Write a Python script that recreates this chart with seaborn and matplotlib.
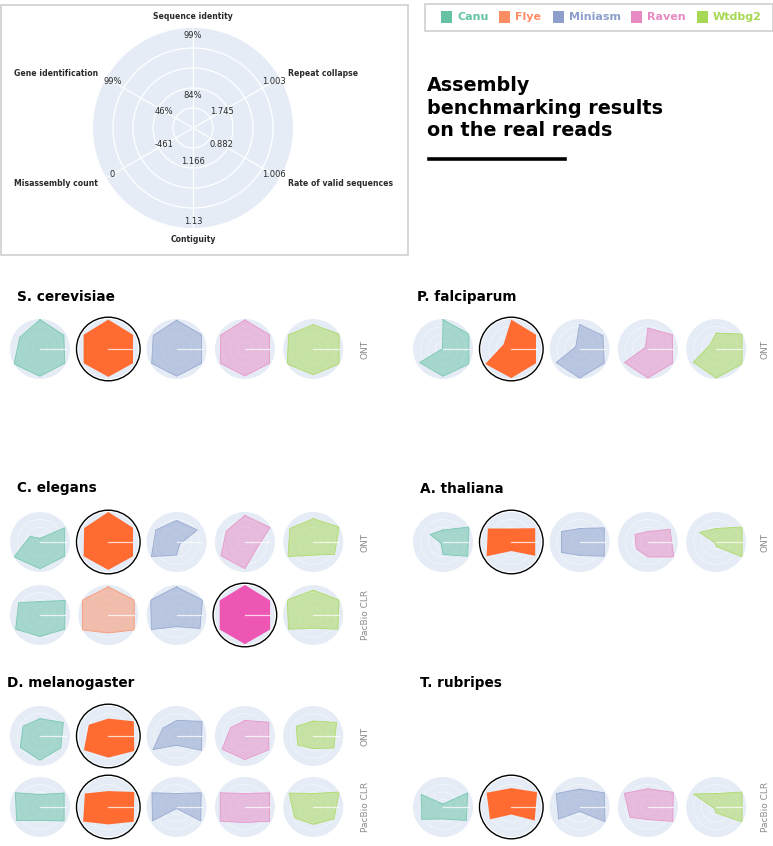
import colorsys
import numpy as np
import matplotlib
matplotlib.use("Agg")
import matplotlib.pyplot as plt
import seaborn as sns

# assemblers and metric names
assemblers = ["Canu", "Flye", "Miniasm", "Raven", "Wtdbg2"]
metrics = ["Sequence identity", "Repeat collapse", "Rate of valid sequences",
           "Contiguity", "Misassembly count", "Gene identification"]
inner_ticks = ["84%", "1.745", "0.882", "1.166", "-461", "46%"]
outer_ticks = ["99%", "1.003", "1.006", "1.13", "0", "99%"]

# normalised scores, metric order as above, one row per assembler
s_cerevisiae_ont = [[0.98, 0.92, 0.95, 0.91, 1.00, 0.78],
                    [0.98, 0.95, 0.95, 0.93, 0.95, 0.95],
                    [0.96, 0.96, 0.96, 0.91, 0.96, 0.90],
                    [0.97, 0.95, 0.95, 0.90, 0.95, 0.93],
                    [0.81, 1.00, 1.00, 0.86, 1.00, 0.95]]
p_falciparum_ont = [[0.98, 1.00, 1.00, 0.91, 0.90, 0.02],
                    [0.98, 0.95, 0.95, 0.97, 1.00, 0.30],
                    [0.82, 0.90, 0.95, 0.97, 0.90, 0.15],
                    [0.70, 0.95, 0.95, 0.97, 0.90, 0.10],
                    [0.53, 1.00, 1.00, 0.97, 0.88, 0.25]]
c_elegans_ont = [[0.12, 0.95, 0.95, 0.89, 1.00, 0.38],
                 [1.00, 0.95, 0.95, 0.93, 0.95, 0.93],
                 [0.72, 0.80, 0.13, 0.44, 0.97, 0.80],
                 [0.89, 0.97, 0.45, 0.89, 0.92, 0.72],
                 [0.78, 1.00, 0.82, 0.44, 0.97, 0.90]]
c_elegans_clr = [[0.45, 0.97, 0.95, 0.72, 0.94, 0.82],
                 [0.94, 1.00, 1.00, 0.60, 1.00, 1.00],
                 [0.94, 1.00, 0.90, 0.39, 0.97, 1.00],
                 [1.00, 0.97, 0.97, 0.97, 0.97, 0.97],
                 [0.83, 1.00, 0.95, 0.44, 0.95, 1.00]]
a_thaliana_ont = [[0.40, 1.00, 0.95, 0.42, 0.08, 0.50],
                  [0.45, 0.92, 0.92, 0.30, 0.95, 0.90],
                  [0.45, 0.95, 0.95, 0.45, 0.70, 0.70],
                  [0.35, 0.85, 1.00, 0.50, 0.45, 0.50],
                  [0.45, 1.00, 1.00, 0.15, 0.05, 0.64]]
d_melanogaster_ont = [[0.58, 0.90, 0.80, 0.81, 0.76, 0.65],
                      [0.58, 0.98, 1.00, 0.72, 0.94, 0.75],
                      [0.52, 0.98, 0.96, 0.31, 0.91, 0.53],
                      [0.52, 0.92, 0.92, 0.79, 0.88, 0.55],
                      [0.50, 0.90, 0.80, 0.42, 0.60, 0.65]]
d_melanogaster_clr = [[0.42, 0.93, 0.93, 0.45, 0.90, 0.95],
                      [0.53, 1.00, 0.98, 0.58, 0.97, 0.90],
                      [0.45, 0.95, 0.93, 0.05, 0.93, 0.95],
                      [0.45, 0.95, 0.95, 0.52, 0.95, 0.95],
                      [0.45, 1.00, 0.80, 0.58, 0.72, 0.93]]
t_rubripes_clr = [[0.10, 0.95, 0.90, 0.40, 0.82, 0.84],
                  [0.63, 0.99, 0.90, 0.25, 0.82, 0.95],
                  [0.60, 0.95, 0.98, 0.15, 0.81, 0.90],
                  [0.61, 0.98, 0.96, 0.42, 0.69, 0.91],
                  [0.45, 1.00, 1.00, 0.20, 0.08, 0.87]]

W, H = 773, 846
fig = plt.figure(figsize=(W / 100, H / 100), dpi=100)
plt.rcParams['font.family'] = ['DejaVu Sans']

pal = sns.color_palette("Set2", 5)
BG = "#e5ecf6"
TXT = "#2a2a2a"
angles = np.deg2rad(np.arange(0, 360, 60))


def fx(x):
    return x / W


def fy(y):
    return 1 - y / H


def polar_at(cx, cy, r):
    ax = fig.add_axes([fx(cx - r), fy(cy + r), 2 * r / W, 2 * r / H], projection="polar")
    ax.set_theta_offset(np.pi / 2)
    ax.set_theta_direction(-1)
    ax.set_facecolor(BG)
    ax.spines["polar"].set_visible(False)
    ax.set_ylim(0, 1)
    ax.set_yticklabels([])
    ax.set_xticklabels([])
    ax.tick_params(length=0, pad=0)
    ax.set_axisbelow(True)
    return ax


def win_color(c):
    h, l, s = colorsys.rgb_to_hls(*c)
    return colorsys.hls_to_rgb(h, l - 0.09, min(1, s + 0.15))


def radar(cx, cy, vals, color, win):
    ax = polar_at(cx, cy, 30)
    ax.set_yticks([0.25, 0.5, 0.75])
    ax.set_xticks([])
    ax.grid(True, color="white", lw=0.5, alpha=0.6)
    th = np.append(angles, angles[0])
    rr = np.append(vals, vals[0])
    if win:
        ax.fill(th, rr, color=win_color(color), alpha=1, lw=0, zorder=2)
        ring = plt.Circle((0.5, 0.5), 0.53, transform=ax.transAxes, fill=False,
                          edgecolor="black", lw=1.0, clip_on=False, zorder=5)
        ax.add_artist(ring)
    else:
        ax.fill(th, rr, facecolor=color, alpha=0.5, edgecolor="none", zorder=2)
        ax.plot(th, rr, color=color, lw=0.6, alpha=0.8, zorder=3)
    ax.plot([np.pi / 2, np.pi / 2], [0, 0.85], color="white", lw=0.9, alpha=0.75, zorder=4)


# --- example radar with metric names
box = plt.Rectangle((fx(1), fy(255)), 407 / W, 250 / H, transform=fig.transFigure,
                    fill=False, edgecolor="#cfcfcf", lw=1.2)
fig.patches.append(box)
big = polar_at(193, 128, 100)
big.set_xticks(angles)
big.set_yticks([0.2, 0.4, 0.6, 0.8])
big.grid(True, color="white", lw=0.9)
for i, name in enumerate(metrics):
    a = angles[i]
    big.text(a, 0.33, inner_ticks[i], ha="center", va="center", fontsize=6, color=TXT)
    big.text(a, 0.93, outer_ticks[i], ha="center", va="center", fontsize=6, color=TXT)
lab_pos = [(1.07, "center", "bottom"), (1.1, "left", "center"), (1.1, "left", "center"),
           (1.07, "center", "top"), (1.1, "right", "center"), (1.1, "right", "center")]
for i, name in enumerate(metrics):
    r, ha, va = lab_pos[i]
    big.text(angles[i], r, name, ha=ha, va=va, fontsize=5.6, fontweight="bold",
             color=TXT, clip_on=False)

# --- legend
leg = plt.Rectangle((fx(425), fy(31)), 348 / W, 27 / H, transform=fig.transFigure,
                    fill=False, edgecolor="#cfcfcf", lw=1.2)
fig.patches.append(leg)
leg_x = [441, 499, 553, 631, 697]
for i, name in enumerate(assemblers):
    fig.patches.append(plt.Rectangle((fx(leg_x[i]), fy(23)), 11 / W, 12 / H,
                                     transform=fig.transFigure, color=pal[i], lw=0))
    fig.text(fx(leg_x[i] + 16), fy(17.5), name, color=pal[i], fontsize=8,
             fontweight="bold", va="center", ha="left")

# --- title
fig.text(fx(427), fy(108), "Assembly\nbenchmarking results\non the real reads",
         fontsize=13.8, fontweight="bold", va="center", ha="left", linespacing=1.22)
fig.add_artist(plt.Line2D([fx(429), fx(565)], [fy(159), fy(159)], color="black", lw=2.6,
                          transform=fig.transFigure))

# --- species panels
panels = [
    ("S. cerevisiae", 17, 297, 40, 365, [("ONT", 349, s_cerevisiae_ont, 1)]),
    ("P. falciparum", 417, 297, 443, 765, [("ONT", 349, p_falciparum_ont, 1)]),
    ("C. elegans", 17, 488, 40, 365, [("ONT", 542, c_elegans_ont, 1),
                                      ("PacBio CLR", 615, c_elegans_clr, 3)]),
    ("A. thaliana", 420, 489, 443, 765, [("ONT", 542, a_thaliana_ont, 1)]),
    ("D. melanogaster", 7, 683, 40, 365, [("ONT", 736, d_melanogaster_ont, 1),
                                          ("PacBio CLR", 807, d_melanogaster_clr, 1)]),
    ("T. rubripes", 420, 683, 443, 765, [("PacBio CLR", 807, t_rubripes_clr, 1)]),
]
for title, tx, ty, x0, lx, rows in panels:
    fig.text(fx(tx), fy(ty), title, fontsize=9.8, fontweight="bold", va="center", ha="left")
    for tech, cy, scores, winner in rows:
        for i in range(5):
            radar(x0 + 68.3 * i, cy, scores[i], pal[i], i == winner)
        fig.text(fx(lx), fy(cy), tech, rotation=90, fontsize=6.5, color="#8a8a8a",
                 va="center", ha="center")

plt.savefig("out.png", dpi=100)
